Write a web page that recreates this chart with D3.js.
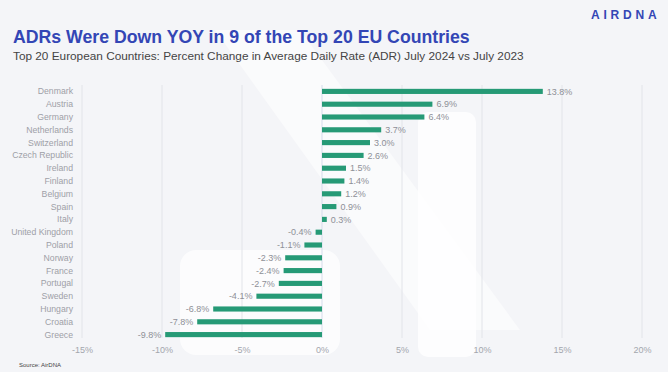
<!DOCTYPE html>
<html>
<head>
<meta charset="utf-8">
<script src="https://cdn.jsdelivr.net/npm/d3@7"></script>
<style>
  html, body { margin: 0; padding: 0; background: #f4f5f8; }
  svg { display: block; font-family: "Liberation Sans", Arial, sans-serif; }
</style>
</head>
<body>
<div id="chart"></div>
<script>
// data
var countries = ["Denmark", "Austria", "Germany", "Netherlands", "Switzerland", "Czech Republic",
  "Ireland", "Finland", "Belgium", "Spain", "Italy", "United Kingdom", "Poland", "Norway",
  "France", "Portugal", "Sweden", "Hungary", "Croatia", "Greece"];
var adrChange = [13.8, 6.9, 6.4, 3.7, 3.0, 2.6, 1.5, 1.4, 1.2, 0.9, 0.3, -0.4, -1.1, -2.3,
  -2.4, -2.7, -4.1, -6.8, -7.8, -9.8];
var xTicks = [-15, -10, -5, 0, 5, 10, 15, 20];

var svgWidth = 668;
var svgHeight = 372;

var margin = { top: 85, right: 26, bottom: 34, left: 82 };

var svg = d3.select("#chart")
  .append("svg")
  .attr("width", svgWidth)
  .attr("height", svgHeight);

svg.append("rect")
  .attr("width", svgWidth)
  .attr("height", svgHeight)
  .attr("fill", "#f4f5f8");

// faint watermark shapes
svg.append("path")
  .attr("d", "M215,30 L300,30 L520,330 L430,330 Z")
  .attr("fill", "#ffffff")
  .attr("opacity", 0.55);
svg.append("rect")
  .attr("x", 180).attr("y", 250).attr("width", 160).attr("height", 105)
  .attr("rx", 16)
  .attr("fill", "#ffffff")
  .attr("opacity", 0.7);
svg.append("rect")
  .attr("x", 418).attr("y", 112).attr("width", 58).attr("height", 245)
  .attr("rx", 10)
  .attr("fill", "#ffffff")
  .attr("opacity", 0.8);

// titles
svg.append("text")
  .attr("x", 13)
  .attr("y", 42.5)
  .attr("fill", "#3346b5")
  .attr("font-size", "17.7px")
  .attr("font-weight", "bold")
  .text("ADRs Were Down YOY in 9 of the Top 20 EU Countries");

svg.append("text")
  .attr("x", 13)
  .attr("y", 59.5)
  .attr("fill", "#444")
  .attr("font-size", "11.8px")
  .text("Top 20 European Countries: Percent Change in Average Daily Rate (ADR) July 2024 vs July 2023");

svg.append("text")
  .attr("x", 591)
  .attr("y", 19)
  .attr("fill", "#3346b5")
  .attr("font-size", "12px")
  .attr("font-weight", "bold")
  .attr("letter-spacing", "3.8px")
  .text("AIRDNA");

svg.append("text")
  .attr("x", 19)
  .attr("y", 367)
  .attr("fill", "#444")
  .attr("font-size", "6px")
  .text("Source: AirDNA");

var chartGroup = svg.append("g")
  .attr("transform", `translate(${margin.left}, ${margin.top})`);

var xLinearScale = d3.scaleLinear()
  .domain([-15, 20])
  .range([0, 560]);

var yBandScale = d3.scaleBand()
  .domain(countries)
  .range([0, 256])
  .paddingInner(0.6)
  .paddingOuter(0.3);

// gridlines
chartGroup.selectAll(".grid")
  .data(xTicks)
  .enter()
  .append("line")
  .attr("x1", d => xLinearScale(d))
  .attr("x2", d => xLinearScale(d))
  .attr("y1", 0)
  .attr("y2", 253)
  .attr("stroke", d => d === 0 ? "#d5dceb" : "#e2e4e9")
  .attr("stroke-width", 1);

// x axis
var bottomAxis = d3.axisBottom(xLinearScale)
  .tickValues(xTicks)
  .tickSize(0)
  .tickPadding(0)
  .tickFormat(d => d + "%");

var xAxis = chartGroup.append("g")
  .attr("transform", `translate(0, 262)`)
  .call(bottomAxis);
xAxis.select(".domain").remove();
xAxis.selectAll("text")
  .attr("fill", "#a3a6ad")
  .attr("font-size", "9px");

// y labels
chartGroup.selectAll(".ylab")
  .data(countries)
  .enter()
  .append("text")
  .attr("x", -9)
  .attr("y", d => yBandScale(d) + yBandScale.bandwidth() / 2)
  .attr("dy", "0.35em")
  .attr("text-anchor", "end")
  .attr("fill", "#9ea0a7")
  .attr("font-size", "8.7px")
  .text(d => d);

var rows = countries.map((c, i) => ({ country: c, value: adrChange[i] }));

// bars
chartGroup.selectAll(".bar")
  .data(rows)
  .enter()
  .append("rect")
  .attr("x", d => xLinearScale(Math.min(0, d.value)))
  .attr("y", d => yBandScale(d.country))
  .attr("width", d => Math.abs(xLinearScale(d.value) - xLinearScale(0)))
  .attr("height", yBandScale.bandwidth())
  .attr("fill", "#269a76");

// value labels
chartGroup.selectAll(".val")
  .data(rows)
  .enter()
  .append("text")
  .attr("x", d => xLinearScale(d.value) + (d.value >= 0 ? 4 : -4))
  .attr("y", d => yBandScale(d.country) + yBandScale.bandwidth() / 2)
  .attr("dy", "0.35em")
  .attr("text-anchor", d => d.value >= 0 ? "start" : "end")
  .attr("fill", "#8e9097")
  .attr("font-size", "9px")
  .text(d => d.value.toFixed(1) + "%");
</script>
</body>
</html>
